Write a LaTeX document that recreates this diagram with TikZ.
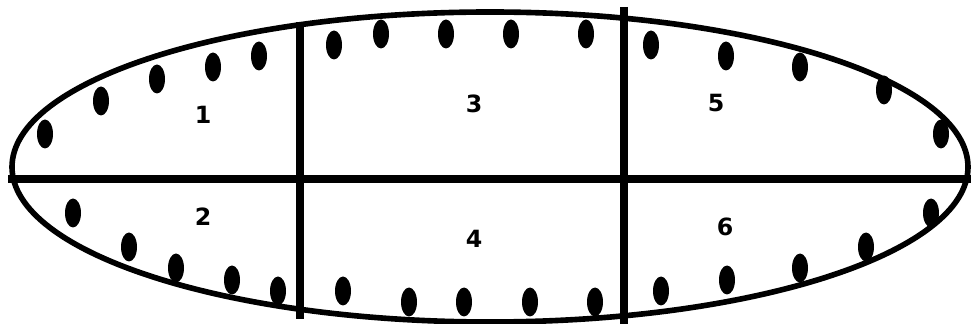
\documentclass[tikz,border=0pt]{standalone}
\usepackage{fontspec}
\setmainfont{DejaVu Sans}
\tikzset{
    outline/.style={
        draw=black,
        line width=3.2pt
    },
    midline/.style={
        draw=black,
        line width=4.9pt
    },
    splitline/.style={
        draw=black,
        line width=4.2pt
    },
    holedot/.style={
        fill=black
    },
    regionlabel/.style={
        inner sep=0pt,
        font=\fontsize{13.5}{15}\selectfont\bfseries
    }
}

\begin{document}
\begin{tikzpicture}[x=0.02cm,y=-0.02cm]
    \useasboundingbox (0,0) rectangle (971,324);

    % outer shell
    \draw[outline] (490,167) ellipse [x radius=478, y radius=155];

    % dividing lines
    \coordinate (midleft) at (8,179);
    \coordinate (midright) at (971,179);
    \coordinate (cutatop) at (300,22);
    \coordinate (cutabot) at (300,319);
    \coordinate (cutbtop) at (624,7);
    \coordinate (cutbbot) at (624,324);
    \draw[midline] (midleft) -- (midright);
    \draw[splitline] (cutatop) -- (cutabot);
    \draw[splitline] (cutbtop) -- (cutbbot);

    % dots along the rim
    \foreach \px/\py in {45/134, 101/101, 157/79, 213/67, 259/56,
                         73/213, 129/247, 176/268, 232/280, 278/291,
                         334/45, 381/34, 446/34, 511/34, 586/34,
                         343/291, 409/302, 464/302, 530/302, 595/302,
                         651/45, 726/56, 800/67, 884/90, 941/134,
                         931/213, 866/247, 800/268, 727/280, 661/291}
        \fill[holedot] (\px,\py) ellipse [x radius=8, y radius=14.5];

    % region numbers
    \node[regionlabel] (one) at (203,115) {1};
    \node[regionlabel] (two) at (203,217) {2};
    \node[regionlabel] (three) at (474,104) {3};
    \node[regionlabel] (four) at (474,239) {4};
    \node[regionlabel] (five) at (716,103) {5};
    \node[regionlabel] (six) at (725,227) {6};
\end{tikzpicture}
\end{document}
